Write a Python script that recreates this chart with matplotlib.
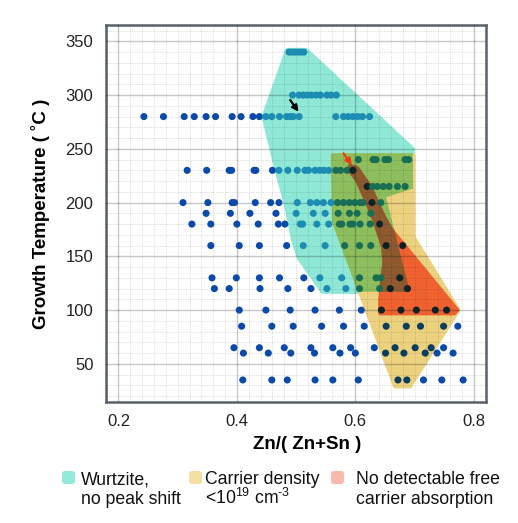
import numpy as np
import matplotlib
matplotlib.use("Agg")
import matplotlib.pyplot as plt
from matplotlib.patches import Polygon, FancyBboxPatch
from matplotlib.path import Path
from matplotlib import font_manager

# ---------------- data ----------------
row340 = [0.488, 0.493, 0.498, 0.503, 0.508, 0.513]
row300 = [0.494, 0.505, 0.512, 0.519, 0.526, 0.534, 0.541, 0.552, 0.559, 0.568]
row280 = [0.243, 0.276, 0.311, 0.328, 0.348, 0.364, 0.392, 0.407, 0.427, 0.438, 0.449, 0.459,
          0.472, 0.484, 0.490, 0.495, 0.505, 0.567, 0.580, 0.588, 0.596, 0.604, 0.612, 0.624]
row240 = [0.605, 0.630, 0.635, 0.650, 0.656, 0.684, 0.690]
row230 = [0.316, 0.349, 0.387, 0.391, 0.429, 0.432, 0.460, 0.471, 0.486, 0.502, 0.515, 0.521,
          0.532, 0.540, 0.547, 0.555, 0.567, 0.575, 0.586, 0.596]
row215 = [0.620, 0.629, 0.637, 0.647, 0.657, 0.671, 0.684]
row200 = [0.309, 0.351, 0.392, 0.396, 0.431, 0.457, 0.471, 0.502, 0.524, 0.535, 0.546, 0.559,
          0.570, 0.580, 0.590, 0.599, 0.608, 0.613, 0.628, 0.643]
row190 = [0.348, 0.389, 0.422, 0.466, 0.500, 0.529, 0.549, 0.571, 0.590, 0.603, 0.626]
row180 = [0.324, 0.356, 0.400, 0.436, 0.470, 0.481, 0.507, 0.511, 0.535, 0.555, 0.573, 0.577,
          0.591, 0.596, 0.608, 0.625, 0.641]
row160 = [0.356, 0.404, 0.438, 0.484, 0.512, 0.549, 0.582, 0.607, 0.626, 0.652, 0.680]
row130 = [0.358, 0.399, 0.438, 0.472, 0.513, 0.540, 0.577, 0.607, 0.635, 0.643, 0.675]
row120 = [0.362, 0.387, 0.439, 0.486, 0.525, 0.552, 0.584, 0.607, 0.641, 0.659, 0.688]
row100 = [0.404, 0.449, 0.490, 0.532, 0.573, 0.610, 0.644, 0.677, 0.703, 0.735, 0.754]
row85 = [0.408, 0.459, 0.495, 0.543, 0.580, 0.615, 0.652, 0.686, 0.710, 0.749, 0.773]
row65 = [0.395, 0.438, 0.480, 0.525, 0.562, 0.592, 0.632, 0.667, 0.701, 0.728, 0.749]
row60 = [0.411, 0.453, 0.491, 0.531, 0.574, 0.600, 0.651, 0.682, 0.718, 0.738, 0.765]
row35 = [0.410, 0.459, 0.485, 0.532, 0.562, 0.605, 0.672, 0.687, 0.715, 0.746, 0.782]

rows = {340: row340, 300: row300, 280: row280, 240: row240, 230: row230, 215: row215,
        200: row200, 190: row190, 180: row180, 160: row160, 130: row130, 120: row120,
        100: row100, 85: row85, 65: row65, 60: row60, 35: row35}

# regions (Zn fraction, growth temperature)
wurtzite_x = [0.445, 0.485, 0.517, 0.697, 0.697, 0.652, 0.692, 0.545, 0.505, 0.495, 0.482, 0.467]
wurtzite_t = [280, 342, 342, 250, 213, 205, 117, 117, 148, 165, 200, 230]
carrier_x = [0.562, 0.698, 0.698, 0.774, 0.692, 0.667, 0.564]
carrier_t = [244, 244, 168, 100, 29, 29, 182]
nofca_x = [0.591, 0.603, 0.625, 0.647, 0.659, 0.772, 0.767, 0.642, 0.642, 0.649, 0.647, 0.628, 0.603, 0.589]
nofca_t = [234, 232, 214.5, 188, 176, 100, 97, 97, 109, 145, 159, 190, 221, 231]

black_arrow = [(0.490, 295.4), (0.504, 284.5)]
red_arrow = [(0.580, 245.8), (0.594, 234.9)]

x_ticks = [0.2, 0.4, 0.6, 0.8]
y_ticks = [50, 100, 150, 200, 250, 300, 350]

legend_labels = [("Wurtzite,", "no peak shift"),
                 ("Carrier density", "<10$^{\\mathregular{19}}$ cm$^{\\mathregular{\u20103}}$"),
                 ("No detectable free", "carrier absorption")]

# ---------------- style ----------------
names = {f.name for f in font_manager.fontManager.ttflist}
base_font = "Liberation Sans" if "Liberation Sans" in names else "DejaVu Sans"
narrow = "Liberation Sans Narrow" in names
label_font = "Liberation Sans Narrow" if narrow else base_font
label_size = 16 if narrow else 13.5
plt.rcParams["font.family"] = [base_font, "DejaVu Sans"]
plt.rcParams["mathtext.fontset"] = "custom"
plt.rcParams["mathtext.rm"] = base_font

c_teal = "#8fe8d6"
c_yellow = "#ecd27f"
c_green = "#8dbe5d"
c_red = "#ef6230"
c_brown = "#8c5a2e"
dot_blue = "#0b4aa8"
dot_teal = "#1c8cb2"
dot_green = "#186e52"
dot_yellow = "#0b3d5c"
dot_red = "#0e2226"

fig = plt.figure(figsize=(5.18, 5.23), dpi=100)
ax = fig.add_axes([106 / 518, 1 - 402 / 523, 380 / 518, 377 / 523])
ax.set_xlim(0.179, 0.8206)
ax.set_ylim(14.5, 365.2)

# regions
teal_poly = Polygon(np.column_stack([wurtzite_x, wurtzite_t]), closed=True, fc=c_teal, ec=c_teal,
                    lw=3, joinstyle="round", zorder=1.0)
ax.add_patch(teal_poly)
yel_poly = Polygon(np.column_stack([carrier_x, carrier_t]), closed=True, fc=c_yellow, ec=c_yellow,
                   lw=3, joinstyle="round", zorder=1.1)
ax.add_patch(yel_poly)
green_poly = Polygon(np.column_stack([carrier_x, carrier_t]), closed=True, fc=c_green, ec=c_green,
                     lw=3, joinstyle="round", zorder=1.2)
ax.add_patch(green_poly)
green_poly.set_clip_path(teal_poly)
red_poly = Polygon(np.column_stack([nofca_x, nofca_t]), closed=True, fc=c_red, ec=c_red,
                   lw=3, joinstyle="round", zorder=1.3)
ax.add_patch(red_poly)
brown_poly = Polygon(np.column_stack([nofca_x, nofca_t]), closed=True, fc=c_brown, ec=c_brown,
                     lw=3, joinstyle="round", zorder=1.4)
ax.add_patch(brown_poly)
brown_poly.set_clip_path(teal_poly)

# points
xs, ys = [], []
for t, vals in rows.items():
    xs.extend(vals)
    ys.extend([t] * len(vals))
pts = np.column_stack([xs, ys])
in_t = Path(np.column_stack([wurtzite_x, wurtzite_t])).contains_points(pts)
in_y = Path(np.column_stack([carrier_x, carrier_t])).contains_points(pts)
in_r = Path(np.column_stack([nofca_x, nofca_t])).contains_points(pts)
cols = []
for a, b, c in zip(in_t, in_y, in_r):
    if c:
        cols.append(dot_red)
    elif a and b:
        cols.append(dot_green)
    elif a:
        cols.append(dot_teal)
    elif b:
        cols.append(dot_yellow)
    else:
        cols.append(dot_blue)
ax.scatter(xs, ys, s=26, c=cols, linewidths=0, zorder=3)

# arrows
ax.annotate("", xy=black_arrow[1], xytext=black_arrow[0],
            arrowprops=dict(arrowstyle="-|>", color="black", lw=1.6, mutation_scale=9,
                            shrinkA=0, shrinkB=0), zorder=4)
ax.annotate("", xy=red_arrow[1], xytext=red_arrow[0],
            arrowprops=dict(arrowstyle="-|>", color="#f03a10", lw=1.6, mutation_scale=9,
                            shrinkA=0, shrinkB=0), zorder=4)

# grid / axes
ax.set_axisbelow(False)
ax.set_xticks(x_ticks)
ax.set_yticks(y_ticks)
ax.set_xticks(np.arange(0.18, 0.821, 0.02), minor=True)
ax.set_yticks(np.arange(20, 361, 10), minor=True)
ax.grid(which="major", color="black", alpha=0.22, lw=1.0)
ax.grid(which="minor", color="black", alpha=0.18, lw=0.6, ls=(0, (1.2, 1.6)))
ax.tick_params(which="both", length=0)
ax.tick_params(which="major", pad=9, labelsize=12, colors="#222222")
for s in ax.spines.values():
    s.set_color("#59616a")
    s.set_linewidth(1.8)

ax.set_xlabel("Zn/( Zn+Sn )", fontsize=label_size, fontweight="bold", family=[label_font, "DejaVu Sans"])
ax.set_ylabel("Growth Temperature ( ˚C )", fontsize=label_size, fontweight="bold",
              family=[label_font, "DejaVu Sans"])
ax.xaxis.set_label_coords((307 - 106) / 380, (402 - 436) / 377)
ax.yaxis.set_label_coords((50 - 106) / 380, 0.5)

# legend
sw_colors = ["#93ead9", "#f4dfa2", "#fbb8ad"]
sw_x = [0.62, 1.89, 3.31]
tx_x = [0.81, 2.05, 3.56]
for (l1, l2), col, sx, tx in zip(legend_labels, sw_colors, sw_x, tx_x):
    fig.patches.append(FancyBboxPatch((sx, 0.39), 0.13, 0.13,
                                      boxstyle="round,pad=0,rounding_size=0.03",
                                      fc=col, ec="none", transform=fig.dpi_scale_trans, figure=fig))
    fig.text(tx, 0.385, l1, fontsize=12.7, va="baseline", ha="left", transform=fig.dpi_scale_trans,
             color="#111111")
    fig.text(tx, 0.195, l2, fontsize=12.7, va="baseline", ha="left", transform=fig.dpi_scale_trans,
             color="#111111")

fig.savefig("out.png", dpi=100)
